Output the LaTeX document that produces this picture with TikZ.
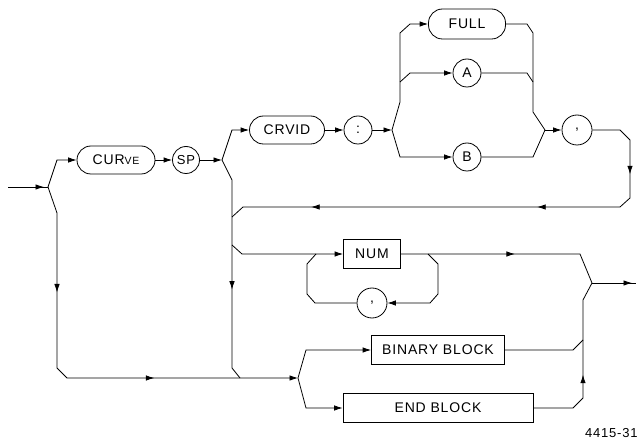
\documentclass[tikz,border=0pt]{standalone}
\usepackage{fontspec}
\setmainfont{Liberation Sans}[LetterSpace=6]
\usetikzlibrary{arrows.meta,decorations.markings}

\newcommand\syntaxfont{\fontsize{14}{16}\selectfont}

\tikzset{
  flow/.tip={Latex[length=8.5pt,width=5.5pt]},
}

\begin{document}
\begin{tikzpicture}[
  x=1pt, y=-1pt, line width=0.8pt,
  word/.style={
    draw, rounded corners=14pt, minimum height=28pt, font=\syntaxfont
  },
  sym/.style={
    draw, circle, minimum size=28pt, inner sep=0pt, font=\syntaxfont
  },
  block/.style={
    draw, minimum height=29pt, font=\syntaxfont
  },
  tipat/.style={
    postaction={decorate, decoration={markings,
      mark=at position #1 with {\arrow{flow}}}}
  },
]
\useasboundingbox (0,0) rectangle (641,441);

% Keywords and symbols
\node[word, minimum width=78pt] (curve) at (116,160) {CUR{\fontsize{10.5}{12}\selectfont VE}};
\node[sym, minimum size=27pt, font=\fontsize{13}{15}\selectfont] (sp) at (186,160) {SP};
\node[word, minimum width=75pt] (crvid) at (287,130) {CRVID};
\node[sym] (colon) at (358,130) {:};
\node[word, minimum width=77pt, minimum height=30pt] (full) at (467,24) {FULL};
\node[sym] (a) at (467,73) {A};
\node[sym] (b) at (467,157) {B};
\node[sym, minimum size=30pt] (comma) at (577,130) {,};

% Data part
\node[block, minimum width=57pt] (num) at (372,254) {NUM};
\node[sym, minimum size=30pt] (sep) at (372,303) {,};
\node[block, minimum width=133pt] (binary) at (438,350) {BINARY BLOCK};
\node[block, minimum width=190pt] (endblk) at (438,408) {END BLOCK};

% Figure number
\node[anchor=base east, font=\fontsize{13}{15}\selectfont, inner sep=0pt] (fig) at (638,437) {4415-31};

% Junctions
\coordinate (start) at (8,187);
\coordinate (j0) at (48,187);
\coordinate (j1) at (222,160);
\coordinate (j2) at (392,130);
\coordinate (j3) at (545,130);
\coordinate (aL) at (400,82);
\coordinate (aR) at (533,82);
\coordinate (nL) at (232,245);
\coordinate (lpL) at (316,254);
\coordinate (lpR) at (428,254);
\coordinate (jb) at (298,378);
\coordinate (bR) at (583,340);
\coordinate (jx) at (592,283);
\coordinate (stop) at (636,283);

% Header row
\draw[tipat=36pt] (start) -- (j0);
\draw[-flow] (j0) -- (57,160) -- (curve);
\draw[-flow] (curve) -- (sp);
\draw[-flow] (sp) -- (j1);
\draw[-flow] (j1) -- (232,130) -- (crvid);
\draw[-flow] (crvid) -- (colon);
\draw[-flow] (colon) -- (j2);

% Curve choice
\draw[-flow] (j2) -- (400,102) -- (400,33) -- (410,24) -- (full);
\draw[-flow] (aL) -- (410,73) -- (a);
\draw[-flow] (j2) -- (400,157) -- (b);
\draw (full) -- (527,24) -- (533,33) -- (533,112) -- (j3);
\draw (a) -- (527,73) -- (aR);
\draw (b) -- (533,157) -- (j3);
\draw[-flow] (j3) -- (comma);

% Return to the data part
\draw[tipat=76pt, tipat=196pt, tipat=422pt]
  (comma) -- (620,130) -- (630,140) -- (630,198) -- (620,207)
  -- (243,207) -- (232,217);
\draw[tipat=132pt] (j1) -- (232,180) -- (232,368) -- (240,378);

% Numbers
\draw[-flow] (nL) -- (242,254) -- (num);
\draw[tipat=114pt] (num) -- (580,254) -- (jx);
\draw[-flow] (lpR) -- (438,264) -- (438,294) -- (430,303) -- (sep);
\draw (sep) -- (315,303) -- (307,294) -- (307,264) -- (lpL);

% Blocks
\draw[tipat=107pt, tipat=284pt, -flow]
  (j0) -- (57,213) -- (57,368) -- (67,378) -- (jb);
\draw[-flow] (jb) -- (306,350) -- (binary);
\draw[-flow] (jb) -- (306,408) -- (endblk);
\draw (binary) -- (573,350) -- (bR);
\draw[tipat=77pt] (endblk) -- (573,408) -- (583,398) -- (583,300) -- (jx);
\draw[tipat=40pt] (jx) -- (stop);

\end{tikzpicture}
\end{document}
